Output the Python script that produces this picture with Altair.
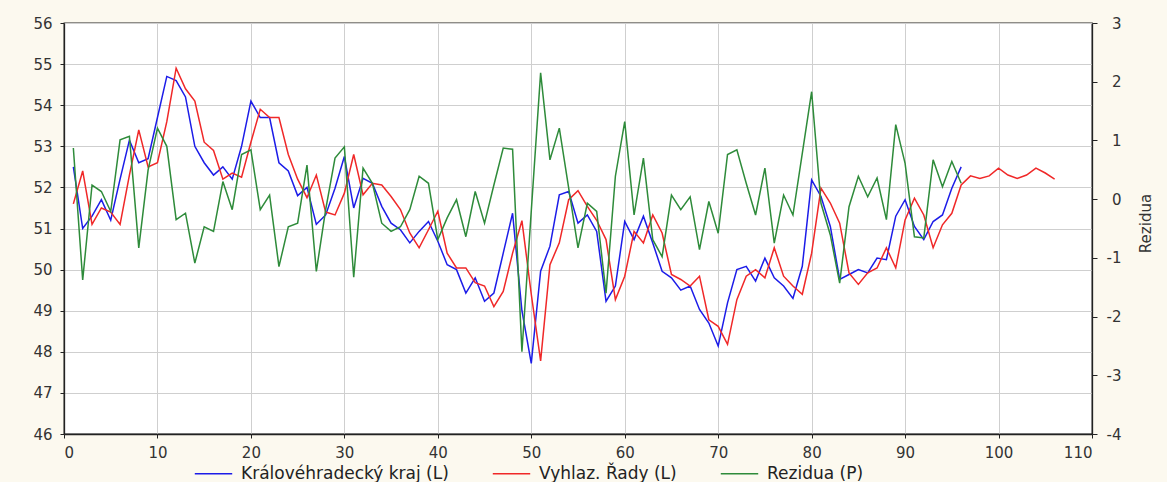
import altair as alt
import pandas as pd

# ---- axis ticks ----
x_ticks = list(range(0, 111, 10))
left_ticks = list(range(46, 57))
right_ticks = list(range(-4, 4))

# ---- series names / colours ----
names = ["Královéhradecký kraj (L)", "Vyhlaz. Řady (L)", "Rezidua (P)"]
colors = ["#1c1ce8", "#f02828", "#2e8b3a"]

# ---- data ----
kraj = [52.5, 51.0, 51.3, 51.7, 51.2, 52.2, 53.15, 52.6, 52.7, 53.7,
        54.7, 54.6, 54.2, 53.0, 52.6, 52.3, 52.5, 52.2, 53.0, 54.1,
        53.7, 53.7, 52.6, 52.4, 51.8, 52.0, 51.1, 51.33, 51.98, 52.75,
        51.5, 52.22, 52.1, 51.54, 51.13, 50.97, 50.65, 50.93, 51.17, 50.69,
        50.12, 50.0, 49.43, 49.8, 49.23, 49.43, 50.4, 51.37, 49.0, 47.72,
        49.96, 50.57, 51.82, 51.9, 51.13, 51.33, 50.93, 49.23, 49.6, 51.17,
        50.73, 51.3, 50.65, 49.96, 49.8, 49.5, 49.6, 49.03, 48.7, 48.14,
        49.19, 50.0, 50.08, 49.72, 50.28, 49.8, 49.6, 49.3, 50.08, 52.18,
        51.78, 51.05, 49.76, 49.88, 50.0, 49.92, 50.28, 50.24, 51.3, 51.7,
        51.05, 50.73, 51.17, 51.33, 51.98, 52.5]

vyhlaz = [51.6, 52.4, 51.1, 51.5, 51.4, 51.1, 52.3, 53.4, 52.5, 52.6,
          53.6, 54.9, 54.4, 54.1, 53.1, 52.9, 52.2, 52.35, 52.25, 53.1,
          53.9, 53.7, 53.7, 52.8, 52.2, 51.75, 52.3, 51.4, 51.33, 51.86,
          52.8, 51.82, 52.1, 52.06, 51.78, 51.46, 50.89, 50.53, 50.97, 51.42,
          50.4, 50.04, 50.04, 49.68, 49.6, 49.1, 49.47, 50.4, 51.19, 49.4,
          47.78, 50.12, 50.65, 51.7, 51.92, 51.54, 51.2, 50.73, 49.27, 49.84,
          50.93, 50.65, 51.33, 50.89, 49.88, 49.76, 49.6, 49.84, 48.78, 48.62,
          48.18, 49.27, 49.84, 50.0, 49.8, 50.53, 49.84, 49.6, 49.4, 50.4,
          51.98, 51.62, 51.13, 49.92, 49.64, 49.92, 50.04, 50.53, 50.04, 51.21,
          51.74, 51.33, 50.53, 51.09, 51.37, 52.06, 52.28, 52.22, 52.28, 52.47,
          52.3, 52.22, 52.3, 52.47, 52.35, 52.2]

rezidua = [0.87, -1.375, 0.24, 0.13, -0.21, 1.01, 1.07, -0.83, 0.5, 1.21,
           0.9, -0.35, -0.24, -1.09, -0.47, -0.55, 0.3, -0.18, 0.76, 0.84,
           -0.18, 0.07, -1.15, -0.47, -0.41, 0.58, -1.23, -0.18, 0.7, 0.89,
           -1.33, 0.53, 0.27, -0.41, -0.55, -0.47, -0.18, 0.39, 0.27, -0.69,
           -0.32, -0.01, -0.64, 0.13, -0.41, 0.24, 0.87, 0.85, -2.6, -0.2,
           2.15, 0.67, 1.21, 0.19, -0.83, -0.07, -0.21, -1.6, 0.39, 1.32,
           -0.27, 0.7, -0.69, -0.98, 0.07, -0.18, 0.04, -0.86, -0.04, -0.58,
           0.76, 0.84, 0.27, -0.27, 0.53, -0.75, 0.07, -0.27, 0.78, 1.83,
           -0.07, -0.61, -1.43, -0.13, 0.39, 0.04, 0.36, -0.35, 1.27, 0.61,
           -0.64, -0.66, 0.67, 0.21, 0.64, 0.27]

left_df = pd.DataFrame({
    "t": list(range(1, len(kraj) + 1)) + list(range(1, len(vyhlaz) + 1)),
    "v": kraj + vyhlaz,
    "s": [names[0]] * len(kraj) + [names[1]] * len(vyhlaz),
})
right_df = pd.DataFrame({
    "t": list(range(1, len(rezidua) + 1)),
    "v": rezidua,
    "s": [names[2]] * len(rezidua),
})

FONT = "DejaVu Sans"

legend = alt.Legend(
    title=None, orient="none", legendX=130, legendY=431,
    direction="horizontal", symbolType="stroke", symbolSize=1400,
    symbolStrokeWidth=1.5, labelFont=FONT, labelFontSize=17,
    labelColor="#222", labelLimit=500, columnPadding=40, labelOffset=8,
    padding=0,
)
color_enc = alt.Color("s:N", scale=alt.Scale(domain=names, range=colors),
                      legend=legend)

x_enc = alt.X("t:Q", scale=alt.Scale(domain=[0, 110], nice=False, zero=False),
              axis=alt.Axis(values=x_ticks, title=None, grid=True,
                            tickSize=4, labelPadding=7))

left = alt.Chart(left_df).mark_line(strokeWidth=1.5).encode(
    x=x_enc,
    y=alt.Y("v:Q", scale=alt.Scale(domain=[46, 56], nice=False, zero=False),
            axis=alt.Axis(values=left_ticks, title=None, grid=True,
                          tickSize=4, labelPadding=8)),
    color=color_enc,
)

right = alt.Chart(right_df).mark_line(strokeWidth=1.5).encode(
    x=x_enc,
    y=alt.Y("v:Q", scale=alt.Scale(domain=[-4, 3], nice=False, zero=False),
            axis=alt.Axis(orient="right", values=right_ticks, grid=False,
                          title="Rezidua", titleAngle=270, titleX=53, titleY=200,
                          titleAlign="center", titleBaseline="middle",
                          titleFont=FONT, titleFontSize=15,
                          titleFontWeight="normal", titleColor="#333",
                          labelAlign="right", labelPadding=24, tickSize=5,
                          labelExpr="toString(datum.value)")),
    color=color_enc,
)

chart = alt.layer(left, right).resolve_scale(y="independent").properties(
    width=1028, height=411,
    autosize=alt.AutoSizeParams(type="none"),
    padding={"left": 64, "top": 23, "right": 75, "bottom": 48},
    background="#fcf9ef",
).configure_view(
    fill="white", stroke="#222", strokeWidth=1.3,
).configure_axis(
    labelFont=FONT, labelFontSize=15, labelColor="#333",
    domainColor="#222", domainWidth=1.3, tickColor="#222",
    gridColor="#cfcfcf", gridWidth=1,
)

chart.save("out.html", embed_options={"renderer": "svg", "actions": False})
